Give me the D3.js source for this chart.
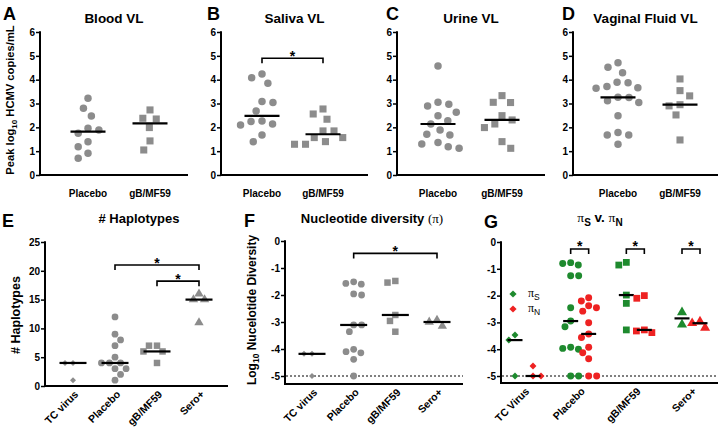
<!DOCTYPE html>
<html><head><meta charset="utf-8">
<script src="https://cdn.jsdelivr.net/npm/d3@7"></script>
<style>
body{margin:0;background:#fff}
svg{display:block}
text{font-family:"Liberation Sans",Arial,Helvetica,sans-serif;font-weight:bold;fill:#000}
</style>
</head><body>
<svg id="c" width="720" height="431"></svg>
<script>
// ---------------- DATA ----------------
const vlGroups = ["Placebo", "gB/MF59"];
const vlTicks = [0, 1, 2, 3, 4, 5, 6];
const bloodPlacebo = [3.22, 2.80, 2.48, 1.96, 1.89, 1.75, 1.40, 1.19, 0.91, 0.70];
const bloodGB = [2.73, 2.38, 2.35, 1.99, 1.43, 1.05];
const salivaPlacebo = [4.24, 4.08, 3.85, 3.08, 3.04, 2.69, 2.27, 2.24, 2.14, 2.10, 1.68, 1.40];
const salivaGB = [2.77, 2.56, 2.34, 1.85, 1.85, 1.57, 1.57, 1.40, 1.29, 1.29];
const urinePlacebo = [4.57, 3.05, 2.97, 2.90, 2.63, 2.49, 2.28, 2.14, 1.89, 1.71, 1.68, 1.36, 1.30, 1.19, 1.12];
const urineGB = [3.33, 3.05, 3.04, 2.49, 2.31, 2.14, 1.99, 1.40, 1.12];
const vaginalPlacebo = [4.71, 4.52, 4.29, 3.89, 3.87, 3.71, 3.66, 3.64, 3.26, 3.25, 3.12, 3.04, 2.49, 1.78, 1.68, 1.68, 1.29];
const vaginalGB = [4.03, 3.54, 3.32, 2.95, 2.90, 2.52, 1.47];
const salivaSig = [["Placebo", "gB/MF59", 4.9]];

const divGroups = ["TC virus", "Placebo", "gB/MF59", "Sero+"];
const haploTicks = [0, 5, 10, 15, 20, 25];
const haploTC = [4, 4, 1];
const haploPlacebo = [12, 9, 8, 7, 5, 4, 4, 4, 3, 3, 2, 1];
const haploGB = [7, 7, 6, 6, 4];
const haploSero = [16, 15, 15, 11];
const haploSig = [["Placebo", "Sero+", 21.0], ["gB/MF59", "Sero+", 18.2]];

const negTicks = [0, -1, -2, -3, -4, -5];
const ndTC = [-4.18, -4.18, -5];
const ndPlacebo = [-1.51, -1.57, -1.60, -1.96, -2.00, -3.11, -3.11, -3.36, -4.01, -4.10, -4.14, -4.38, -5];
const ndGB = [-1.48, -1.54, -2.74, -2.96, -3.36];
const ndSero = [-2.93, -3.00, -3.15];
const ndSig = [["Placebo", "Sero+", -0.46]];

const piGroups = ["TC Virus", "Placebo", "gB/MF59", "Sero+"];
const piSeries = ["S", "N"];
const piS_TC = [-3.47, -3.66, -5];
const piN_TC = [-4.63, -5, -5];
const piS_Placebo = [-0.77, -0.80, -0.86, -1.26, -1.26, -2.45, -2.95, -3.16, -3.93, -3.97, -4.00, -5, -5];
const piN_Placebo = [-2.08, -2.20, -2.38, -2.45, -2.58, -3.01, -3.43, -3.56, -3.93, -4.13, -4.36, -5, -5];
const piS_GB = [-0.76, -0.86, -1.98, -2.29, -3.28];
const piN_GB = [-2.00, -2.10, -3.28, -3.32, -3.38];
const piS_Sero = [-2.62, -3.08];
const piN_Sero = [-2.97, -3.03, -3.20];
const piSig = [["Placebo", -0.26], ["gB/MF59", -0.26], ["Sero+", -0.26]];

// ---------------- DRAWING ----------------
const svg = d3.select("#c");
const GRAY = "#8c8c8c", GREEN = "#1e8a2e", RED = "#ee2222";
const FONT = '"Liberation Sans",Arial,Helvetica,sans-serif';

function swarm(vals, y, diam) {
  const pts = vals.map((v, i) => ({ v, y: y(v), x: 0, i }));
  const order = pts.slice().sort((a, b) => a.y - b.y);
  const placed = [];
  let flip = 1;
  for (const p of order) {
    const cands = [0];
    for (const q of placed) {
      const dy = Math.abs(q.y - p.y);
      if (dy < diam) {
        const dx = Math.sqrt(diam * diam - dy * dy);
        cands.push(q.x + dx, q.x - dx);
      }
    }
    cands.sort((a, b) => (Math.abs(a) - Math.abs(b)) || (flip * (b - a)));
    for (const c of cands) {
      if (placed.every(q => (q.x - c) ** 2 + (q.y - p.y) ** 2 >= diam * diam - 0.01)) { p.x = c; break; }
    }
    flip = -flip;
    placed.push(p);
  }
  return pts;
}

function yAxis(g, scale, ticks, x, yTop, yBottom) {
  const ax = d3.axisLeft(scale).tickValues(ticks).tickSize(4).tickPadding(1).tickFormat(d => String(d));
  const gg = g.append("g").attr("transform", `translate(${x},0)`).call(ax);
  gg.attr("font-family", FONT).attr("font-size", 10);
  gg.select(".domain").remove();
  gg.selectAll(".tick line").attr("stroke", "#000").attr("stroke-width", 1.5);
  gg.selectAll(".tick text").attr("fill", "#000").style("font-weight", "bold");
  g.append("line").attr("x1", x).attr("x2", x).attr("y1", yTop - 0.75).attr("y2", yBottom)
    .attr("stroke", "#000").attr("stroke-width", 2);
}
function xLine(g, x1, x2, y) {
  g.append("line").attr("x1", x1 - 1).attr("x2", x2).attr("y1", y).attr("y2", y)
    .attr("stroke", "#000").attr("stroke-width", 2);
}
const DIAMOND = { type: d3.symbolSquare, rot: 45 };
const CIRCLE = { type: d3.symbolCircle, rot: 0 };
const SQUARE = { type: d3.symbolSquare, rot: 0 };
const TRIANGLE = { type: d3.symbolTriangle, rot: 0 };
function dotsAt(g, pts, cx, shape, size, color) {
  g.selectAll(null).data(pts).join("path")
    .attr("d", d3.symbol().type(shape.type).size(size))
    .attr("transform", d => `translate(${cx + d.x},${d.y}) rotate(${shape.rot})`)
    .attr("fill", color);
}
function median(g, vals, y, cx, w) {
  const m = d3.median(vals);
  g.append("line").attr("x1", cx - w / 2).attr("x2", cx + w / 2).attr("y1", y(m)).attr("y2", y(m))
    .attr("stroke", "#000").attr("stroke-width", 2.2);
}
function bracket(g, x1, x2, yy) {
  g.append("path").attr("d", `M${x1},${yy + 5}V${yy}H${x2}V${yy + 5}`)
    .attr("fill", "none").attr("stroke", "#000").attr("stroke-width", 1.6);
  g.append("text").attr("x", (x1 + x2) / 2).attr("y", yy + 2.5).attr("text-anchor", "middle")
    .style("font-size", "14px").text("*");
}
function label(txt, x, y, size, anchor) {
  return svg.append("text").attr("x", x).attr("y", y).attr("text-anchor", anchor || "start")
    .style("font-size", size + "px").text(txt);
}

// ---- Panels A-D ----
const vlPanels = [
  { letter: "A", lx: 3, title: "Blood VL", ax: 40, end: 188, cx: [88, 150], data: [bloodPlacebo, bloodGB], sig: [] },
  { letter: "B", lx: 207, title: "Saliva VL", ax: 221, end: 368, cx: [262, 323], data: [salivaPlacebo, salivaGB], sig: salivaSig },
  { letter: "C", lx: 386, title: "Urine VL", ax: 397, end: 545, cx: [438, 502], data: [urinePlacebo, urineGB], sig: [] },
  { letter: "D", lx: 562, title: "Vaginal Fluid VL", ax: 573, end: 718, cx: [618, 680], data: [vaginalPlacebo, vaginalGB], sig: [] }
];
vlPanels.forEach(p => {
  const g = svg.append("g");
  const y = d3.scaleLinear().domain([0, 6]).range([175, 32]);
  const x = d3.scalePoint().domain(vlGroups).range(p.cx);
  yAxis(g, y, vlTicks, p.ax, y(6), 175);
  xLine(g, p.ax, p.end, 175);
  label(p.letter, p.lx, 20, 18);
  label(p.title, (p.ax + p.end) / 2, 23, 13.5, "middle");
  vlGroups.forEach((grp, i) => {
    const pts = swarm(p.data[i], y, 11);
    dotsAt(g, pts, x(grp), i === 0 ? CIRCLE : SQUARE, i === 0 ? 44 : 50, GRAY);
    median(g, p.data[i], y, x(grp), 35);
    g.append("text").attr("x", x(grp)).attr("y", 197).attr("text-anchor", "middle")
      .style("font-size", "10px").text(grp);
  });
  p.sig.forEach(s => bracket(g, x(s[0]), x(s[1]), y(s[2])));
});
// y label A
svg.append("text").attr("transform", "translate(14,100) rotate(-90)").attr("text-anchor", "middle")
  .style("font-size", "11.2px")
  .call(t => {
    t.append("tspan").text("Peak log");
    t.append("tspan").attr("dy", 3).style("font-size", "8px").text("10");
    t.append("tspan").attr("dy", -3).text(" HCMV copies/mL");
  });

// ---- Panel E and F ----
const shapes = [DIAMOND, CIRCLE, SQUARE, TRIANGLE];
const shapeSize = [18, 36, 42, 38];
function rotLabels(g, x, groups, y0) {
  groups.forEach(grp => {
    g.append("text").attr("transform", `translate(${x(grp) + 6},${y0 + 9}) rotate(-45)`)
      .attr("text-anchor", "end").style("font-size", "10.5px").text(grp);
  });
}
{
  const g = svg.append("g");
  const y = d3.scaleLinear().domain([0, 25]).range([386, 242]);
  const x = d3.scalePoint().domain(divGroups).range([73, 199]);
  yAxis(g, y, haploTicks, 45, y(25), 386);
  xLine(g, 45, 228, 386);
  label("E", 2, 227, 18);
  label("# Haplotypes", 139, 223, 13, "middle");
  [haploTC, haploPlacebo, haploGB, haploSero].forEach((vals, i) => {
    const pts = swarm(vals, y, 8);
    dotsAt(g, pts, x(divGroups[i]), shapes[i], shapeSize[i], GRAY);
    median(g, vals, y, x(divGroups[i]), 27);
  });
  haploSig.forEach(s => bracket(g, x(s[0]), x(s[1]), y(s[2])));
  rotLabels(g, x, divGroups, 386);
  svg.append("text").attr("transform", "translate(20,315) rotate(-90)").attr("text-anchor", "middle")
    .style("font-size", "12.5px").text("# Haplotypes");
}
{
  const g = svg.append("g");
  const y = d3.scaleLinear().domain([-5, 0]).range([376, 241]);
  const x = d3.scalePoint().domain(divGroups).range([312, 437]);
  yAxis(g, y, negTicks, 285, y(0), 384);
  xLine(g, 285, 463, 384);
  g.append("line").attr("x1", 286).attr("x2", 463).attr("y1", y(-5)).attr("y2", y(-5))
    .attr("stroke", "#000").attr("stroke-width", 1).attr("stroke-dasharray", "2,2");
  label("F", 244, 227, 18);
  svg.append("text").attr("x", 372).attr("y", 223).attr("text-anchor", "middle").style("font-size", "13px")
    .call(t => {
      t.append("tspan").text("Nucleotide diversity ");
      t.append("tspan").style("font-family", '"Liberation Serif",serif').style("font-weight", "normal").text("(π)");
    });
  [ndTC, ndPlacebo, ndGB, ndSero].forEach((vals, i) => {
    const pts = swarm(vals, y, 8);
    dotsAt(g, pts, x(divGroups[i]), shapes[i], shapeSize[i], GRAY);
    median(g, vals, y, x(divGroups[i]), 27);
  });
  ndSig.forEach(s => bracket(g, x(s[0]), x(s[1]), y(s[2])));
  rotLabels(g, x, divGroups, 384);
  svg.append("text").attr("transform", "translate(256,310) rotate(-90)").attr("text-anchor", "middle")
    .style("font-size", "12px")
    .call(t => {
      t.append("tspan").text("Log");
      t.append("tspan").attr("dy", 3).style("font-size", "8.5px").text("10");
      t.append("tspan").attr("dy", -3).text(" Nucelotide Diversity");
    });
}

// ---- Panel G ----
{
  const g = svg.append("g");
  const y = d3.scaleLinear().domain([-5, 0]).range([376, 242]);
  const x = d3.scalePoint().domain(piGroups).range([524, 691]);
  const sub = d3.scalePoint().domain(piSeries).range([-9, 9]);
  const colors = { S: GREEN, N: RED };
  yAxis(g, y, negTicks, 501, y(0), 383);
  xLine(g, 501, 718, 383);
  g.append("line").attr("x1", 502).attr("x2", 718).attr("y1", y(-5)).attr("y2", y(-5))
    .attr("stroke", "#000").attr("stroke-width", 1).attr("stroke-dasharray", "2,2");
  label("G", 484, 228, 18);
  const piFont = '"Liberation Serif",serif';
  svg.append("text").attr("x", 600).attr("y", 222).attr("text-anchor", "middle").style("font-size", "13.5px")
    .call(t => {
      t.append("tspan").style("font-family", piFont).style("font-weight", "normal").text("π");
      t.append("tspan").attr("dy", 3.5).style("font-size", "10px").text("S");
      t.append("tspan").attr("dy", -3.5).text(" v. ");
      t.append("tspan").style("font-family", piFont).style("font-weight", "normal").text("π");
      t.append("tspan").attr("dy", 3.5).style("font-size", "10px").text("N");
    });
  const series = {
    "TC Virus": [piS_TC, piN_TC], "Placebo": [piS_Placebo, piN_Placebo],
    "gB/MF59": [piS_GB, piN_GB], "Sero+": [piS_Sero, piN_Sero]
  };
  const gShapes = [DIAMOND, CIRCLE, SQUARE, TRIANGLE];
  const gSizes = [24, 38, 46, 44];
  piGroups.forEach((grp, i) => {
    piSeries.forEach((s, j) => {
      const vals = series[grp][j];
      const pts = swarm(vals, y, 8);
      dotsAt(g, pts, x(grp) + sub(s), gShapes[i], gSizes[i], colors[s]);
      median(g, vals, y, x(grp) + sub(s), 15);
    });
  });
  piSig.forEach(s => bracket(g, x(s[0]) + sub("S"), x(s[0]) + sub("N"), y(s[1])));
  rotLabels(g, x, piGroups, 383);
  // legend
  piSeries.forEach((s, j) => {
    const ly = 294 + j * 15;
    g.append("path").attr("d", d3.symbol().type(DIAMOND.type).size(26)())
      .attr("transform", `translate(513,${ly}) rotate(45)`).attr("fill", colors[s]);
    g.append("text").attr("x", 528).attr("y", ly + 3).style("font-size", "12px")
      .call(t => {
        t.append("tspan").style("font-family", piFont).style("font-weight", "normal").text("π");
        t.append("tspan").attr("dy", 3).style("font-size", "8.5px").style("font-weight", "normal").text(s);
      });
  });
}
</script>
</body></html>
